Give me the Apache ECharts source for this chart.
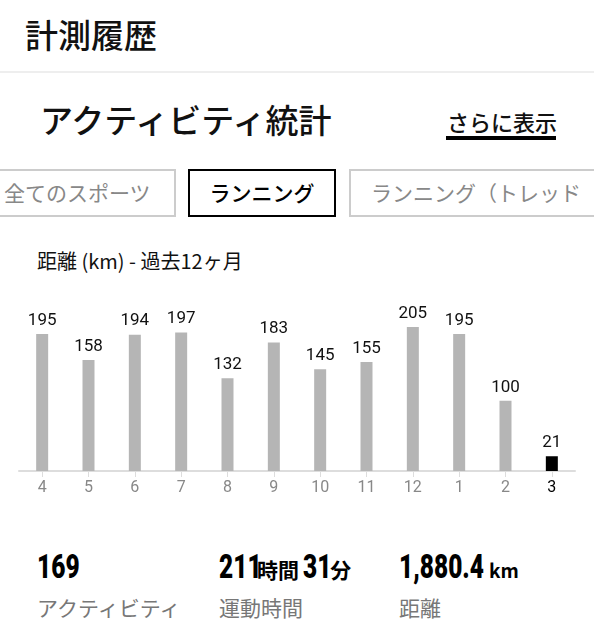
<!DOCTYPE html>
<html><head><meta charset="utf-8">
<script src="https://cdn.jsdelivr.net/npm/echarts@6/dist/echarts.min.js"></script>
<style>
body{margin:0;width:594px;height:640px;overflow:hidden;background:#fff;font-family:"Noto Sans CJK JP","Noto Sans",sans-serif;position:relative;color:#111}
.a{position:absolute;white-space:nowrap}
.tab{position:absolute;top:169px;height:48px;box-sizing:border-box;border:2px solid #ccc;font-size:21px;line-height:43px;color:#888;overflow:hidden;padding:0 12px}
.num{font-family:"Roboto",sans-serif;font-weight:900;font-size:34px;color:#000;display:inline-block;transform:scaleX(0.72);transform-origin:left}
.unit{font-size:21px;font-weight:bold;color:#000}
.lab{font-size:21px;color:#777}
</style></head><body>
<div class="a" style="left:25px;top:10px;font-size:33px;font-weight:500">計測履歴</div>
<div class="a" style="left:0;top:71px;width:594px;height:2px;background:#eee"></div>
<div class="a" style="left:40px;top:95px;font-size:33px;font-weight:500">アクティビティ統計</div>
<div class="a" style="left:447px;top:105px;font-size:22px;font-weight:500">さらに表示</div>
<div class="a" style="left:446px;top:136px;width:110px;height:4px;background:#000"></div>
<div class="tab" style="left:-12px;width:188px;padding-left:14px">全てのスポーツ</div>
<div class="tab" style="left:188px;width:148px;border-color:#000;color:#000;font-weight:500;text-align:center;padding:0">ランニング</div>
<div class="tab" style="left:349px;width:260px;padding-left:20px">ランニング（トレッドミル）</div>
<div class="a" style="left:37px;top:246px;font-size:20px">距離 (km) - 過去12ヶ月</div>
<div id="c" style="position:absolute;left:0;top:280px;width:594px;height:240px"></div>
<div class="a" style="left:37px;top:546px;width:100px"><span class="num">169</span></div>
<div class="a lab" style="left:37px;top:592px">アクティビティ</div>
<div class="a" style="left:219px;top:546px"><span class="num" style="width:38px">211</span><span class="unit">時間</span> <span class="num" style="width:24px">31</span> <span class="unit">分</span></div>
<div class="a lab" style="left:219px;top:592px">運動時間</div>
<div class="a" style="left:399px;top:546px"><span class="num" style="width:90px">1,880.4</span><span class="unit" style="font-size:19px">km</span></div>
<div class="a lab" style="left:399px;top:592px">距離</div>
<script>
const months=["4","5","6","7","8","9","10","11","12","1","2","3"];
const distances=[195,158,194,197,132,183,145,155,205,195,100,21];
const ch=echarts.init(document.getElementById('c'));
ch.setOption({animation:false,
grid:{left:19,width:556,top:47,height:144},
xAxis:{type:'category',data:months,axisLine:{lineStyle:{color:'#ddd',width:2}},
 axisTick:{show:true,alignWithLabel:true,length:6,lineStyle:{color:'#ddd'}},
 axisLabel:{fontSize:16,color:'#888',margin:9,fontFamily:'Roboto',
  rich:{b:{color:'#000',fontSize:16,fontFamily:'Roboto'}},
  formatter:(v,i)=>i===months.length-1?'{b|'+v+'}':v}},
yAxis:{type:'value',min:0,max:205,show:false,splitLine:{show:false}},
series:[{type:'bar',barWidth:12,data:distances.map((v,i)=>({value:v,itemStyle:{color:i===distances.length-1?'#000':'#b5b5b5'}})),
 label:{show:true,position:'top',fontSize:17,color:'#111',distance:5,fontFamily:'Roboto'}}]});
</script></body></html>
